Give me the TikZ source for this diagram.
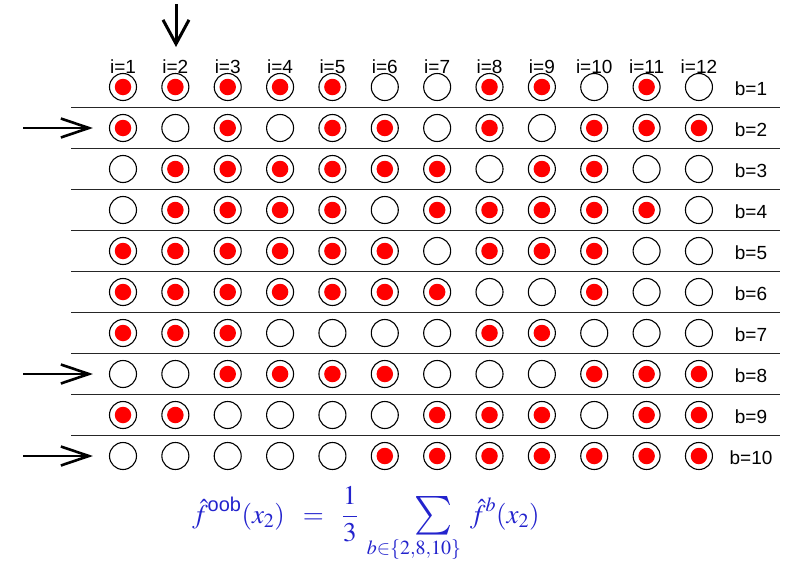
\documentclass[tikz,border=0pt]{standalone}
\usepackage{amsmath}
\usepackage{graphicx}
\usepackage{mathptmx}
\DeclareSymbolFont{lmlarge}{OMX}{lmex}{m}{n}
\DeclareMathSymbol{\lmsum}{\mathop}{lmlarge}{"50}
\newcommand{\bigsumop}{\mathop{\vcenter{\hbox{\kern20pt\scalebox{1.45}[1.55]{$\lmsum$}\kern-20pt}}}\limits}
\usepackage[no-math]{fontspec}
\newfontfamily\lab{Liberation Sans}
\usetikzlibrary{arrows.meta}
\definecolor{formblue}{RGB}{35,35,205}
\tikzset{
  ring/.style={draw=black, circle, minimum size=27pt, inner sep=0pt, line width=1.1pt},
  dot/.style={fill=red, circle, minimum size=16.5pt, inner sep=0pt},
  lbl/.style={font=\lab\fontsize{19}{19}\selectfont, inner sep=0pt, anchor=base},
  sep/.style={line width=1.3pt, draw=black!85},
  harrow/.style={line width=2.6pt, -{Straight Barb[length=28pt,width=19pt,line width=2.6pt]}},
  varrow/.style={line width=3pt, -{Straight Barb[length=24pt,width=26pt,line width=3pt]}}
}
\begin{document}
\begin{tikzpicture}[x=1pt,y=-1pt]
\useasboundingbox (0,0) rectangle (785,562);
% column labels
\foreach \i in {1,...,12}
  \node[lbl] (li\i) at ({123+52.36*(\i-1)},73) {i=\i};
% rows
\foreach \b/\pat in {1/{1,1,1,1,1,0,0,1,1,0,1,0},
                     2/{1,0,1,0,1,1,0,1,0,1,1,1},
                     3/{0,1,1,1,1,1,1,0,1,1,0,0},
                     4/{0,1,1,1,1,0,1,1,1,1,1,0},
                     5/{1,1,1,1,1,1,0,1,1,1,0,0},
                     6/{1,1,1,1,1,1,1,0,0,1,0,0},
                     7/{1,1,1,0,0,0,0,1,1,0,0,0},
                     8/{0,0,1,1,1,1,0,0,0,1,1,1},
                     9/{1,1,0,0,0,0,1,1,1,0,1,1},
                     10/{0,0,0,0,0,1,1,1,1,1,1,1}}{
  \foreach \v [count=\i] in \pat {
    \node[ring] (c\b-\i) at ({123+52.36*(\i-1)},{87+41*(\b-1)}) {};
    \ifnum\v=1 \node[dot] (d\b-\i) at (c\b-\i) {};\fi
  }
  \node[lbl] (lb\b) at (751,{95+41*(\b-1)}) {b=\b};
}
% separators
\foreach \k in {1,...,9}
  \draw[sep] (71,{107.5+41*(\k-1)}) -- (780,{107.5+41*(\k-1)});
% arrows
\coordinate (vs) at (176,4);
\coordinate (ve) at (176,47);
\draw[varrow] (vs) -- (ve);
\foreach \b in {2,8,10}{
  \coordinate (hs\b) at (23,{87+41*(\b-1)});
  \draw[harrow] (hs\b) -- ([xshift=-16pt]c\b-1.west);
}
% formula
\node[text=formblue, inner sep=0pt, anchor=base west, font=\fontsize{27}{32}\selectfont] (form) at (192,523)
 {$\displaystyle \hat f^{\text{\lab oob}}(x_2)\;\;=\;\;\frac{1}{3}\;\bigsumop_{b\in\{2,8,10\}}\;\hat f^{b}(x_2)$};
\end{tikzpicture}
\end{document}
